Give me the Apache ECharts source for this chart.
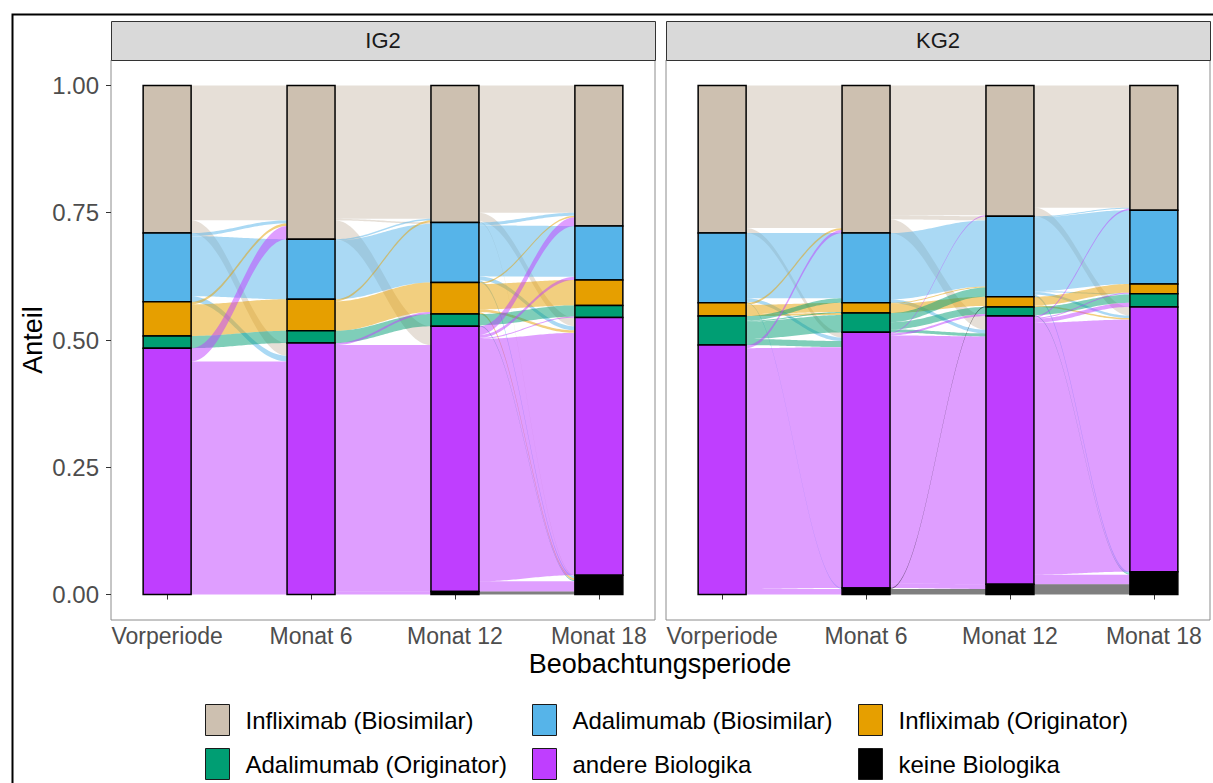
<!DOCTYPE html>
<html>
<head>
<meta charset="utf-8">
<script src="https://cdn.jsdelivr.net/npm/echarts@6/dist/echarts.min.js"></script>
<style>
  html, body { margin: 0; padding: 0; background: #ffffff; }
  #chart { width: 1213px; height: 783px; }
</style>
</head>
<body>
<div id="chart"></div>
<script>
// ---- data -------------------------------------------------------------
const categories = [
  'Infliximab (Biosimilar)',
  'Adalimumab (Biosimilar)',
  'Infliximab (Originator)',
  'Adalimumab (Originator)',
  'andere Biologika',
  'keine Biologika'
];
const periods = ['Vorperiode', 'Monat 6', 'Monat 12', 'Monat 18'];
const groups = ['IG2', 'KG2'];
const yTicks = [0, 0.25, 0.5, 0.75, 1];

// transitions between consecutive periods: [from category, to category, share]
const ig2VorperiodeMonat6 = [
  [0, 0, 0.265], [0, 4, 0.025],
  [1, 0, 0.006], [1, 1, 0.118], [1, 4, 0.011],
  [2, 0, 0.005], [2, 2, 0.062],
  [3, 3, 0.024],
  [4, 0, 0.026], [4, 4, 0.458]
];
const ig2Monat6Monat12 = [
  [0, 0, 0.262], [0, 1, 0.003], [0, 4, 0.037],
  [1, 0, 0.003], [1, 1, 0.115],
  [2, 0, 0.004], [2, 2, 0.058],
  [3, 3, 0.024],
  [4, 2, 0.004], [4, 4, 0.484], [4, 5, 0.006]
];
const ig2Monat12Monat18 = [
  [0, 0, 0.250], [0, 4, 0.017], [0, 5, 0.002],
  [1, 0, 0.006], [1, 1, 0.100], [1, 4, 0.008], [1, 5, 0.004],
  [2, 0, 0.003], [2, 2, 0.050], [2, 4, 0.005], [2, 5, 0.004],
  [3, 3, 0.022], [3, 5, 0.002],
  [4, 0, 0.017], [4, 1, 0.006], [4, 3, 0.002], [4, 4, 0.476], [4, 5, 0.020],
  [5, 5, 0.006]
];
const kg2VorperiodeMonat6 = [
  [0, 0, 0.280], [0, 4, 0.010],
  [1, 1, 0.128], [1, 4, 0.007], [1, 5, 0.002],
  [2, 0, 0.004], [2, 2, 0.018], [2, 3, 0.004],
  [3, 1, 0.009], [3, 2, 0.002], [3, 3, 0.034], [3, 4, 0.012],
  [4, 0, 0.006], [4, 4, 0.473], [4, 5, 0.011]
];
const kg2Monat6Monat12 = [
  [0, 0, 0.255], [0, 1, 0.008], [0, 4, 0.027],
  [1, 1, 0.130], [1, 4, 0.007],
  [2, 1, 0.002], [2, 2, 0.018],
  [3, 1, 0.018], [3, 3, 0.014], [3, 4, 0.006],
  [4, 0, 0.002], [4, 3, 0.004], [4, 4, 0.487], [4, 5, 0.009],
  [5, 2, 0.002], [5, 5, 0.011]
];
const kg2Monat12Monat18 = [
  [0, 0, 0.240], [0, 4, 0.017],
  [1, 0, 0.002], [1, 1, 0.145], [1, 3, 0.002], [1, 4, 0.005], [1, 5, 0.004],
  [2, 2, 0.017], [2, 4, 0.003],
  [3, 3, 0.016], [3, 5, 0.002],
  [4, 0, 0.003], [4, 2, 0.002], [4, 3, 0.008], [4, 4, 0.495], [4, 5, 0.019],
  [5, 5, 0.020]
];

const transitionsByGroup = [
  [ig2VorperiodeMonat6, ig2Monat6Monat12, ig2Monat12Monat18],
  [kg2VorperiodeMonat6, kg2Monat6Monat12, kg2Monat12Monat18]
];

// ---- style ------------------------------------------------------------
const colors = ['#CDC0B0', '#56B4E9', '#E69F00', '#009E73', '#BF3EFF', '#000000'];
const FONT = "'Liberation Sans', Arial, Helvetica, sans-serif";
const BAR_HALF = 1 / 6;      // strata are 1/3 of the axis spacing wide
const CURVE = 0.38;          // horizontal pull of the flow control points
const panels = [
  { left: 111, top: 60, width: 544, height: 560 },
  { left: 666, top: 60, width: 544, height: 560 }
];

// ---- alluvial layout: strata stacks and flow ribbons -------------------
function layoutGroup(transitions) {
  const nCat = categories.length;
  const nPer = transitions.length + 1;
  const strata = [];
  for (let p = 0; p < nPer; p++) {
    const v = new Array(nCat).fill(0);
    if (p < transitions.length) transitions[p].forEach(f => { v[f[0]] += f[2]; });
    else transitions[p - 1].forEach(f => { v[f[1]] += f[2]; });
    strata.push(v);
  }
  // first category on top, stacking downwards from 1
  const tops = strata.map(v => {
    const t = []; let acc = v.reduce((a, b) => a + b, 0);
    for (let c = 0; c < nCat; c++) { t.push(acc); acc -= v[c]; }
    return t;
  });
  const strataItems = categories.map(() => []);
  strata.forEach((v, p) => v.forEach((val, c) => {
    if (val > 0) strataItems[c].push([p + 1, tops[p][c], tops[p][c] - val]);
  }));
  const flowItems = [];
  transitions.forEach((tr, t) => {
    const leftOff = tops[t].slice();
    const rightOff = tops[t + 1].slice();
    const lodes = tr.map(f => ({ from: f[0], to: f[1], v: f[2] }));
    lodes.slice().sort((a, b) => a.from - b.from || a.to - b.to).forEach(l => {
      l.yTL = leftOff[l.from]; l.yBL = l.yTL - l.v; leftOff[l.from] = l.yBL;
    });
    lodes.slice().sort((a, b) => a.to - b.to || a.from - b.from).forEach(l => {
      l.yTR = rightOff[l.to]; l.yBR = l.yTR - l.v; rightOff[l.to] = l.yBR;
    });
    lodes.forEach(l => {
      flowItems.push([t + 1 + BAR_HALF, t + 2 - BAR_HALF, l.yTL, l.yBL, l.yTR, l.yBR, l.from]);
    });
  });
  return { strataItems, flowItems };
}

function bezierPoints(p0, p3, n) {
  const dx = p3[0] - p0[0];
  const c1 = [p0[0] + CURVE * dx, p0[1]];
  const c2 = [p3[0] - CURVE * dx, p3[1]];
  const pts = [];
  for (let i = 0; i <= n; i++) {
    const t = i / n, u = 1 - t;
    pts.push([
      u * u * u * p0[0] + 3 * u * u * t * c1[0] + 3 * u * t * t * c2[0] + t * t * t * p3[0],
      u * u * u * p0[1] + 3 * u * u * t * c1[1] + 3 * u * t * t * c2[1] + t * t * t * p3[1]
    ]);
  }
  return pts;
}

function renderFlow(params, api) {
  const x0 = api.value(0), x1 = api.value(1);
  const a = api.coord([x0, api.value(2)]);
  const b = api.coord([x1, api.value(4)]);
  const c = api.coord([x1, api.value(5)]);
  const d = api.coord([x0, api.value(3)]);
  const top = bezierPoints(a, b, 40);
  const bottom = bezierPoints(c, d, 40);
  return {
    type: 'polygon',
    shape: { points: top.concat(bottom) },
    style: { fill: colors[api.value(6)], opacity: 0.5 }
  };
}

function makeStrataRenderer(color) {
  return function (params, api) {
    const x = api.value(0);
    const p1 = api.coord([x - BAR_HALF, api.value(1)]);
    const p2 = api.coord([x + BAR_HALF, api.value(2)]);
    return {
      type: 'rect',
      shape: { x: p1[0], y: p1[1], width: p2[0] - p1[0], height: p2[1] - p1[1] },
      style: { fill: color, stroke: '#000000', lineWidth: 1.5 }
    };
  };
}

// ---- option -----------------------------------------------------------
const grid = [], xAxis = [], yAxis = [], series = [], graphic = [];

groups.forEach((g, gi) => {
  const pnl = panels[gi];
  grid.push({
    left: pnl.left, top: pnl.top, width: pnl.width, height: pnl.height,
    show: true, borderColor: '#8C8C8C', borderWidth: 1, backgroundColor: '#ffffff',
    outerBoundsMode: 'none'
  });
  xAxis.push({
    type: 'value', gridIndex: gi, min: 0.61, max: 4.39,
    axisLine: { show: false }, splitLine: { show: false },
    axisTick: { show: true, customValues: [1, 2, 3, 4], length: 5, lineStyle: { color: '#333333', width: 1 } },
    axisLabel: {
      customValues: [1, 2, 3, 4],
      formatter: v => periods[Math.round(v) - 1],
      fontSize: 23, color: '#4D4D4D', fontFamily: FONT, margin: 4
    }
  });
  yAxis.push({
    type: 'value', gridIndex: gi, min: -0.05, max: 1.05,
    axisLine: { show: false }, splitLine: { show: false },
    axisTick: { show: gi === 0, customValues: yTicks, length: 5, lineStyle: { color: '#333333', width: 1 } },
    axisLabel: {
      show: gi === 0, customValues: yTicks,
      formatter: v => v.toFixed(2),
      fontSize: 24, color: '#4D4D4D', fontFamily: FONT, margin: 12
    }
  });

  const lay = layoutGroup(transitionsByGroup[gi]);
  series.push({
    type: 'custom', name: 'Übergänge ' + g, xAxisIndex: gi, yAxisIndex: gi,
    renderItem: renderFlow, data: lay.flowItems, z: 1, silent: true
  });
  categories.forEach((cat, ci) => {
    series.push({
      type: 'custom', name: cat, xAxisIndex: gi, yAxisIndex: gi,
      itemStyle: { color: colors[ci], borderColor: '#000000', borderWidth: 1 },
      renderItem: makeStrataRenderer(colors[ci]), data: lay.strataItems[ci], z: 2, silent: true
    });
  });

  // facet strip
  graphic.push({
    type: 'rect', left: pnl.left, top: 21,
    shape: { width: pnl.width, height: pnl.top - 21 },
    style: { fill: '#D9D9D9', stroke: '#333333', lineWidth: 1 }
  });
  graphic.push({
    type: 'text', x: pnl.left + pnl.width / 2, y: (21 + pnl.top) / 2,
    style: { text: g, font: '22px ' + FONT, fill: '#1A1A1A', align: 'center', verticalAlign: 'middle' }
  });
});

// outer frame
graphic.push({
  type: 'rect', left: 10, top: 12,
  shape: { width: 1230, height: 800 },
  style: { fill: 'none', stroke: '#000000', lineWidth: 2 }, z: 0
});
// axis titles
graphic.push({
  type: 'text', x: 33, y: 340, rotation: Math.PI / 2,
  style: { text: 'Anteil', font: '27px ' + FONT, fill: '#000000', align: 'center', verticalAlign: 'middle' }
});
graphic.push({
  type: 'text', x: 660, y: 664,
  style: { text: 'Beobachtungsperiode', font: '27px ' + FONT, fill: '#000000', align: 'center', verticalAlign: 'middle' }
});

// legend, three columns by two rows
const legendSlots = [[205, 704], [532, 704], [858, 704], [205, 748], [532, 748], [858, 748]];
const legend = categories.map((cat, i) => ({
  left: legendSlots[i][0], top: legendSlots[i][1], padding: 0,
  data: [{ name: cat, icon: 'rect' }],
  itemWidth: 24, itemHeight: 31, selectedMode: false,
  itemStyle: { borderColor: '#1A1A1A', borderWidth: 1 },
  textStyle: { fontSize: 24, fontFamily: FONT, color: '#000000', padding: [0, 0, 0, 11] }
}));

const chart = echarts.init(document.getElementById('chart'), null, { renderer: 'svg' });
chart.setOption({
  animation: false,
  backgroundColor: '#ffffff',
  textStyle: { fontFamily: FONT },
  grid, xAxis, yAxis, series, legend, graphic
});
</script>
</body>
</html>
